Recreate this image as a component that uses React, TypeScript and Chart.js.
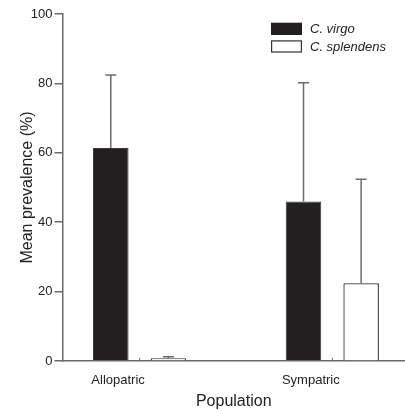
import React, { useEffect, useRef } from "react";
import { Chart, registerables } from "chart.js";

Chart.register(...registerables);

const categories = ["Allopatric", "Sympatric"];
const seriesNames = ["C. virgo", "C. splendens"];
const virgoMeans = [61.4, 46.0];
const virgoErrors = [21.0, 34.2];
const splendensMeans = [0.8, 22.4];
const splendensErrors = [0.4, 30.0];
const yTicks = [0, 20, 40, 60, 80, 100];

const FONT = "'Liberation Sans', Arial, Helvetica, sans-serif";
const AXIS_COLOR = "#6a6a6a";
const TEXT_COLOR = "#222";
const BLACK_FILL = "#231f20";

const errorSets = [virgoErrors, splendensErrors];

const errorBarsPlugin = {
  id: "errorBars",
  afterDatasetsDraw(chart: any) {
    const ctx = chart.ctx;
    const yScale = chart.scales.y;
    ctx.save();
    ctx.strokeStyle = "#6b6b6b";
    ctx.lineWidth = 1.5;
    chart.data.datasets.forEach((ds: any, di: number) => {
      const meta = chart.getDatasetMeta(di);
      meta.data.forEach((el: any, j: number) => {
        const v = ds.data[j].y;
        const e = errorSets[di][j];
        const top = yScale.getPixelForValue(v + e);
        ctx.beginPath();
        ctx.moveTo(el.x, el.y);
        ctx.lineTo(el.x, top);
        ctx.moveTo(el.x - 5.5, top);
        ctx.lineTo(el.x + 5.5, top);
        ctx.stroke();
      });
    });
    ctx.restore();
  },
};

const xInnerTicksPlugin = {
  id: "xInnerTicks",
  afterDraw(chart: any) {
    const ctx = chart.ctx;
    const xs = chart.scales.x;
    const yb = chart.chartArea.bottom;
    ctx.save();
    ctx.strokeStyle = AXIS_COLOR;
    ctx.lineWidth = 1;
    categories.forEach((_, i) => {
      const px = xs.getPixelForValue(i);
      ctx.beginPath();
      ctx.moveTo(px, yb);
      ctx.lineTo(px, yb - 3);
      ctx.stroke();
    });
    ctx.restore();
  },
};

const legendPlugin = {
  id: "customLegend",
  afterDraw(chart: any) {
    const ctx = chart.ctx;
    const area = chart.chartArea;
    const boxX = area.right - 134;
    const boxW = 31;
    const boxH = 12.3;
    const rows = [22.7, 40.3];
    ctx.save();
    seriesNames.forEach((name, i) => {
      const y = rows[i];
      if (i === 0) {
        ctx.fillStyle = BLACK_FILL;
        ctx.fillRect(boxX, y, boxW, boxH);
      } else {
        ctx.fillStyle = "#fff";
        ctx.fillRect(boxX, y, boxW, boxH);
        ctx.strokeStyle = "#333";
        ctx.lineWidth = 1.2;
        ctx.strokeRect(boxX + 0.6, y + 0.6, boxW - 1.2, boxH - 1.2);
      }
      ctx.fillStyle = TEXT_COLOR;
      ctx.font = `italic 13px ${FONT}`;
      ctx.textBaseline = "middle";
      ctx.textAlign = "left";
      ctx.fillText(name, boxX + 39, y + boxH / 2 + 0.5);
    });
    ctx.restore();
  },
};

export default function App() {
  const canvasRef = useRef<HTMLCanvasElement | null>(null);

  useEffect(() => {
    document.body.style.margin = "0";
    const canvas = canvasRef.current;
    if (!canvas) return;
    const chart = new Chart(canvas, {
      type: "bar",
      data: {
        datasets: [
          {
            label: seriesNames[0],
            data: categories.map((_, i) => ({ x: i, y: virgoMeans[i] })),
            backgroundColor: BLACK_FILL,
            borderColor: "#3a3a3a",
            borderWidth: 1,
            categoryPercentage: 0.598,
            barPercentage: 0.617,
          },
          {
            label: seriesNames[1],
            data: categories.map((_, i) => ({ x: i, y: splendensMeans[i] })),
            backgroundColor: "#ffffff",
            borderColor: "#333",
            borderWidth: 1.3,
            categoryPercentage: 0.598,
            barPercentage: 0.617,
          },
        ],
      },
      options: {
        animation: false,
        responsive: true,
        maintainAspectRatio: false,
        layout: { padding: { top: 14, right: 0, left: 0, bottom: 0 } },
        plugins: {
          legend: { display: false },
          tooltip: { enabled: false },
        },
        scales: {
          x: {
            type: "linear",
            offset: false,
            min: -0.4,
            max: 1.377,
            afterBuildTicks: (scale: any) => {
              scale.ticks = categories.map((_, i) => ({ value: i }));
            },
            afterFit: (scale: any) => {
              scale.height = 50;
            },
            grid: { display: false, offset: false },
            border: { display: true, color: AXIS_COLOR, width: 1.5 },
            ticks: {
              callback: (_v: any, i: number) => categories[i],
              labelOffset: -21.5,
              padding: 4,
              color: TEXT_COLOR,
              font: { family: FONT, size: 13 },
              maxRotation: 0,
            },
            title: {
              display: true,
              text: "Population",
              color: TEXT_COLOR,
              font: { family: FONT, size: 16 },
              padding: { top: 0, bottom: 0 },
            },
          },
          y: {
            min: 0,
            max: 100,
            afterBuildTicks: (scale: any) => {
              scale.ticks = yTicks.map((v) => ({ value: v }));
            },
            afterFit: (scale: any) => {
              scale.width = 62.5;
            },
            grid: {
              display: true,
              drawOnChartArea: false,
              drawTicks: true,
              tickLength: 8,
              color: AXIS_COLOR,
              lineWidth: 1.5,
            },
            border: { display: true, color: AXIS_COLOR, width: 1.5 },
            ticks: {
              padding: 2,
              color: TEXT_COLOR,
              font: { family: FONT, size: 13 },
            },
            title: {
              display: true,
              text: "Mean prevalence (%)",
              color: TEXT_COLOR,
              font: { family: FONT, size: 16 },
              padding: { top: 18, bottom: 0 },
            },
          },
        },
      },
      plugins: [errorBarsPlugin, xInnerTicksPlugin, legendPlugin],
    });
    return () => chart.destroy();
  }, []);

  return (
    <div style={{ width: 405, height: 411, position: "relative" }}>
      <canvas ref={canvasRef} />
    </div>
  );
}
